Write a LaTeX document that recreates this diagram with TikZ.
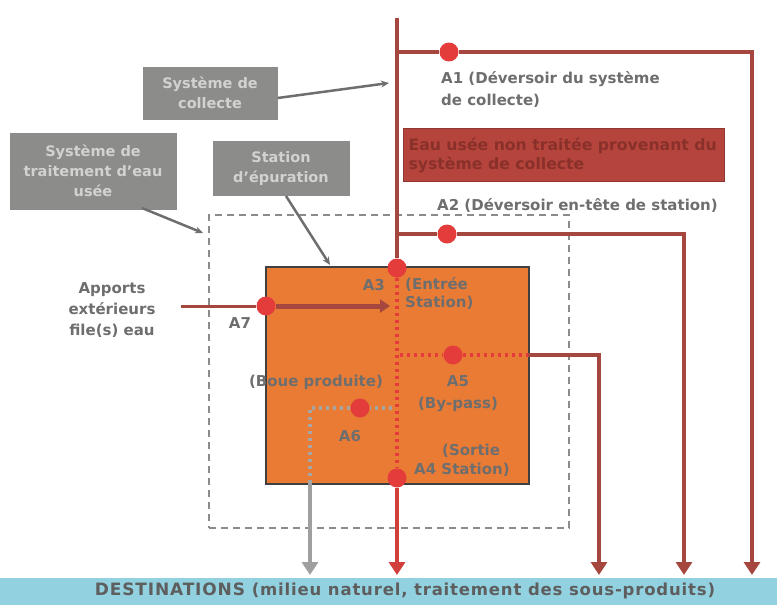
\documentclass[tikz,border=0pt]{standalone}
\usepackage{fontspec}
\setmainfont{DejaVu Sans}
\usetikzlibrary{arrows.meta}
\definecolor{pipe}{HTML}{A5473F}
\definecolor{dotred}{HTML}{E43B3B}
\definecolor{orangebox}{HTML}{E97B35}
\definecolor{graybox}{HTML}{8C8C8A}
\definecolor{graytext}{HTML}{D2D2D0}
\definecolor{lbl}{HTML}{6E6E6E}
\definecolor{dest}{HTML}{92D1E0}
\definecolor{redbox}{HTML}{B5443C}
\definecolor{redtext}{HTML}{8A302A}
\begin{document}
\begin{tikzpicture}[x=1pt,y=-1pt,
  dot/.style={circle,fill=dotred,minimum size=19pt,inner sep=0pt},
  pipeline/.style={draw=pipe,line width=4pt},
  downarrow/.style={pipeline,-{Triangle[width=16pt,length=13pt]}},
  gbox/.style={fill=graybox,text=graytext,font=\bfseries\fontsize{14.5}{20}\selectfont,align=center,inner sep=0pt},
  lab/.style={text=lbl,font=\bfseries\fontsize{15}{20}\selectfont,align=left,inner sep=0pt},
  callout/.style={draw=lbl,line width=2.5pt,-{Stealth[length=8pt,width=7pt]}}
]
\useasboundingbox (0,0) rectangle (777,605);
% destinations bar
\node[fill=dest,minimum width=777pt,minimum height=28pt,inner sep=0pt,anchor=north west] (dest) at (0,578) {};
\node[text=lbl!85!black,font=\bfseries\fontsize{17}{18}\selectfont\addfontfeatures{LetterSpace=5}] (desttext) at (405,591) {DESTINATIONS {\fontsize{16.5}{18}\selectfont(milieu naturel, traitement des sous-produits)}};
% dashed system box
\node[draw=lbl!80,dashed,line width=2.2pt,dash pattern=on 7pt off 5pt,minimum width=360pt,minimum height=313pt,anchor=north west,inner sep=0pt] (sys) at (208,214) {};
% orange station box
\node[draw=black!75,fill=orangebox,line width=2pt,minimum width=263pt,minimum height=217pt,anchor=north west,inner sep=0pt] (stat) at (265,266) {};
% coordinates
\coordinate (top) at (397,18);
\coordinate (b1) at (397,52);
\coordinate (c1) at (752,52);
\coordinate (e1) at (752,575);
\coordinate (b2) at (397,234);
\coordinate (c2) at (684,234);
\coordinate (e2) at (684,575);
\coordinate (d5) at (400,355);
\coordinate (s5) at (528,355);
\coordinate (c5) at (599,355);
\coordinate (e5) at (599,575);
\coordinate (e4) at (397,575);
\coordinate (g1) at (310,408);
\coordinate (g2) at (310,483);
\coordinate (e6) at (310,575);
\coordinate (g3) at (392,408);
\coordinate (in7) at (181,306);
\coordinate (end7) at (390,306);
% dots
\node[dot] (A1) at (449,52) {};
\node[dot] (A2) at (447,234) {};
\node[dot] (A3) at (397,268) {};
\node[dot] (A4) at (397,478) {};
\node[dot] (A5) at (453,355) {};
\node[dot] (A6) at (360,408) {};
\node[dot] (A7) at (266,306) {};
% main pipe and overflows
\draw[pipeline] (top) -- (A3);
\draw[pipeline] (b1) -- (A1);
\draw[downarrow] (A1) -- (c1) -- (e1);
\draw[pipeline] (b2) -- (A2);
\draw[downarrow] (A2) -- (c2) -- (e2);
% inside station
\draw[dotred,line width=3.5pt,dash pattern=on 3pt off 4pt] (A3) -- (A4);
\draw[dotred,line width=3.5pt,dash pattern=on 3pt off 4pt] (d5) -- (A5) -- (s5);
\draw[downarrow] (s5) -- (c5) -- (e5);
\draw[downarrow,draw=dotred!70!pipe] (A4) -- (e4);
\draw[gray!70,line width=3.5pt,dash pattern=on 3pt off 4pt] (g3) -- (A6) -- (g1) -- (g2);
\draw[gray!75,line width=4pt,-{Triangle[width=16pt,length=13pt]}] (g2) -- (e6);
\draw[draw=pipe,line width=3pt] (in7) -- (A7);
\draw[draw=pipe,line width=5pt,-{Triangle[width=13pt,length=10pt]}] (A7) -- (end7);
% red box
\node[fill=redbox,draw=redbox!80!black,minimum width=321pt,minimum height=53pt,anchor=north west,inner sep=0pt] (redb) at (403,128) {};
\node[text=redtext,font=\bfseries\fontsize{15.7}{19}\selectfont,align=left,anchor=west] (redt) at (405,155) {Eau usée non traitée provenant du\\système de collecte};
% gray boxes
\node[gbox,minimum width=135pt,minimum height=53pt] (coll) at (210,93) {Système de\\collecte};
\node[gbox,minimum width=167pt,minimum height=77pt] (trait) at (93,171) {Système de\\traitement d'eau\\usée};
\node[gbox,minimum width=137pt,minimum height=55pt] (epur) at (281,168) {Station\\d'épuration};
\draw[callout] (coll.east) ++(0,5) coordinate (cs) -- (389,83);
\draw[callout] (142,208) -- (203,233);
\draw[callout] (286,196) -- (330,265);
% labels
\node[lab,anchor=west,font=\bfseries\fontsize{15}{22}\selectfont] (lA1) at (441,89) {A1 (Déversoir du système\\de collecte)};
\node[lab,anchor=west] (lA2) at (437,205) {A2 (Déversoir en-tête de station)};
\node[lab,anchor=east] (lA3) at (385,285) {A3};
\node[lab,anchor=west,font=\bfseries\fontsize{15}{18}\selectfont] (lA3b) at (405,293) {(Entrée\\Station)};
\node[lab,align=center,font=\bfseries\fontsize{15}{21}\selectfont] (lapp) at (112,310) {Apports\\extérieurs\\file(s) eau};
\node[lab] (lA7) at (240,323) {A7};
\node[lab] (lboue) at (316,382) {(Boue produite)};
\node[lab,align=center,font=\bfseries\fontsize{15}{22}\selectfont] (lA5) at (458,394) {A5\\(By-pass)};
\node[lab] (lA6) at (350,436) {A6};
\node[lab,anchor=west] (lsort) at (442,451) {(Sortie};
\node[lab,anchor=west] (lA4) at (414,470) {A4 Station)};
\end{tikzpicture}
\end{document}
